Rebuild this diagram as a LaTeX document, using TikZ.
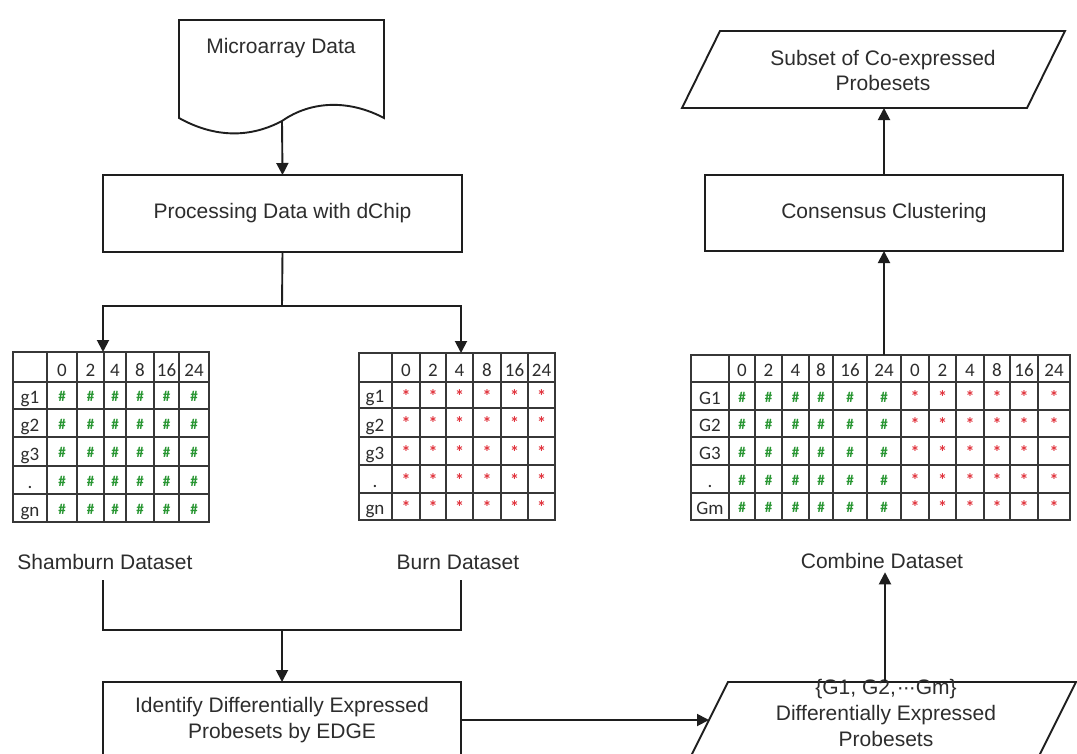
\documentclass[tikz,border=0pt]{standalone}
\usepackage{fontspec}
\setmainfont{Liberation Sans}
\newfontfamily\tabfont{Carlito}
\usetikzlibrary{arrows.meta}
\definecolor{ink}{RGB}{30,30,30}
\definecolor{txt}{RGB}{45,45,45}
\definecolor{gridc}{RGB}{55,55,55}
\definecolor{hashgreen}{RGB}{40,150,50}
\definecolor{starred}{RGB}{225,50,60}
\begin{document}
\begin{tikzpicture}[x=1pt,y=-1pt,
  shapeline/.style={draw=ink, line width=1.9pt},
  procbox/.style={shapeline, inner sep=0pt, outer sep=0pt, anchor=north west,
                  font=\fontsize{21}{26}\selectfont, text=txt, align=center},
  lbl/.style={font=\fontsize{21}{27}\selectfont, text=txt, align=center},
  conn/.style={draw=ink, line width=1.9pt},
  arr/.style={conn, -{Triangle[length=12pt,width=12pt]}},
  grid/.style={draw=gridc, line width=1.6pt},
  tframe/.style={draw=gridc, line width=1.6pt, inner sep=0pt, outer sep=0pt, anchor=north west},
  tabtxt/.style={font=\tabfont\fontsize{19}{19}\selectfont, text=txt, inner sep=0pt, anchor=base},
  hash/.style={font=\tabfont\bfseries\fontsize{15}{15}\selectfont, text=hashgreen, inner sep=0pt},
  star/.style={font=\tabfont\bfseries\fontsize{18}{18}\selectfont, text=starred, inner sep=0pt}]

\useasboundingbox (0,0) rectangle (1077,753);
\clip (0,0) rectangle (1077,753);
\fill[white] (0,0) rectangle (1077,753);

% ---------- Microarray data (document shape) ----------
\draw[shapeline] (179,118) -- (179,20) -- (384,20) -- (384,118)
  .. controls (350,100) and (312,100) .. (282,121)
  .. controls (250,138) and (215,138) .. (179,118) -- cycle;
\node[lbl] (mad) at (281,48) {Microarray Data};
\coordinate (madw) at (282,121);

% ---------- processing boxes ----------
\node[procbox, minimum width=359, minimum height=77] (dchip) at (103,175) {Processing Data with dChip};
\node[procbox, minimum width=358, minimum height=76] (cons) at (705,175) {Consensus Clustering};
\node[procbox, minimum width=358, minimum height=76] (ident) at (103,682)
  {Identify Differentially Expressed\\Probesets by EDGE};

% ---------- parallelograms ----------
\draw[shapeline] (720,31) -- (1065,31) -- (1027,108) -- (682,108) -- cycle;
\node[lbl, font=\fontsize{21}{25}\selectfont] (subset) at (883,70) {Subset of Co-expressed\\Probesets};
\coordinate (sbot) at (884,108);

\draw[shapeline] (728,682) -- (1076,682) -- (1032,770) -- (684,770) -- cycle;
\node[lbl, font=\fontsize{21}{26}\selectfont] (dep) at (886,713)
  {\{G1, G2,\kern1pt·\kern-1pt·\kern-1pt·Gm\}\\Differentially Expressed\\Probesets};
\coordinate (depleft) at (709,720);
\coordinate (deptop) at (885,682);

% ---------- Shamburn table ----------
\node[tframe, minimum width=196, minimum height=170] (t1) at (13,352) {};
\foreach \x in {47,77,104,126,154,179} \draw[grid] (\x,352) -- (\x,522);
\foreach \y in {382,409,437,466,494} \draw[grid] (13,\y) -- (209,\y);
\foreach \a/\b/\t [count=\i] in {47/77/0,77/104/2,104/126/4,126/154/8,154/179/16,179/209/24}
  \node[tabtxt] (t1h\i) at ({(\a+\b)/2},376) {\t};
\foreach \ya/\yb/\t [count=\i] in {382/409/g1,409/437/g2,437/466/g3,466/494/.,494/522/gn}
  \node[tabtxt] (t1r\i) at (30,{\yb-6}) {\t};
\foreach \a/\b [count=\i] in {47/77,77/104,104/126,126/154,154/179,179/209}
  \foreach \ya/\yb [count=\j] in {382/409,409/437,437/466,466/494,494/522}
    \node[hash] (t1c\i-\j) at ({(\a+\b)/2},{(\ya+\yb)/2+1}) {\#};

% ---------- Burn table ----------
\node[tframe, minimum width=196, minimum height=167] (t2) at (359,353) {};
\foreach \x in {392,420,446,473,501,528} \draw[grid] (\x,353) -- (\x,520);
\foreach \y in {382,408,437,465,493} \draw[grid] (359,\y) -- (555,\y);
\foreach \a/\b/\t [count=\i] in {392/420/0,420/446/2,446/473/4,473/501/8,501/528/16,528/555/24}
  \node[tabtxt] (t2h\i) at ({(\a+\b)/2},376) {\t};
\foreach \ya/\yb/\t [count=\i] in {382/408/g1,408/437/g2,437/465/g3,465/493/.,493/520/gn}
  \node[tabtxt] (t2r\i) at (375,{\yb-6}) {\t};
\foreach \a/\b [count=\i] in {392/420,420/446,446/473,473/501,501/528,528/555}
  \foreach \ya/\yb [count=\j] in {382/408,408/437,437/465,465/493,493/520}
    \node[star] (t2c\i-\j) at ({(\a+\b)/2},{(\ya+\yb)/2+1}) {*};

% ---------- Combined table ----------
\node[tframe, minimum width=379, minimum height=165] (t3) at (691,355) {};
\foreach \x in {729,755,782,809,833,867,901,929,956,984,1010,1038} \draw[grid] (\x,355) -- (\x,520);
\foreach \y in {382,410,437,465,493} \draw[grid] (691,\y) -- (1070,\y);
\foreach \a/\b/\t [count=\i] in {729/755/0,755/782/2,782/809/4,809/833/8,833/867/16,867/901/24,
                                 901/929/0,929/956/2,956/984/4,984/1010/8,1010/1038/16,1038/1070/24}
  \node[tabtxt] (t3h\i) at ({(\a+\b)/2},376) {\t};
\foreach \ya/\yb/\t [count=\i] in {382/410/G1,410/437/G2,437/465/G3,465/493/.,493/520/Gm}
  \node[tabtxt] (t3r\i) at (710,{\yb-5.5}) {\t};
\foreach \a/\b [count=\i] in {729/755,755/782,782/809,809/833,833/867,867/901}
  \foreach \ya/\yb [count=\j] in {382/410,410/437,437/465,465/493,493/520}
    \node[hash] (t3g\i-\j) at ({(\a+\b)/2},{(\ya+\yb)/2+1}) {\#};
\foreach \a/\b [count=\i] in {901/929,929/956,956/984,984/1010,1010/1038,1038/1070}
  \foreach \ya/\yb [count=\j] in {382/410,410/437,437/465,465/493,493/520}
    \node[star] (t3s\i-\j) at ({(\a+\b)/2},{(\ya+\yb)/2+1}) {*};

% ---------- dataset captions ----------
\node[lbl] (shl) at (105,562) {Shamburn Dataset};
\node[lbl] (brl) at (458,562) {Burn Dataset};
\node[lbl] (coml) at (882,561) {Combine Dataset};

% ---------- connectors ----------
\draw[arr] (madw) -- (dchip.north);
\coordinate (split) at (282,306);
\draw[conn] (dchip.south) -- (split);
\draw[arr] (split) -| (t1.north -| 103,0);
\draw[arr] (split) -| (t2.north -| 461,0);

\coordinate (jl) at (103,580);
\coordinate (jr) at (461,580);
\coordinate (jmid) at (282,630);
\draw[conn] (jl) |- (jmid) -| (jr);
\draw[arr] (jmid) -- (ident.north);

\draw[arr] (ident.east) -- (depleft);
\draw[arr] (deptop) -- (deptop |- coml.south);
\draw[arr] (t3.north -| cons.south) -- (cons.south);
\draw[arr] (cons.north) -- (sbot);
\end{tikzpicture}
\end{document}
